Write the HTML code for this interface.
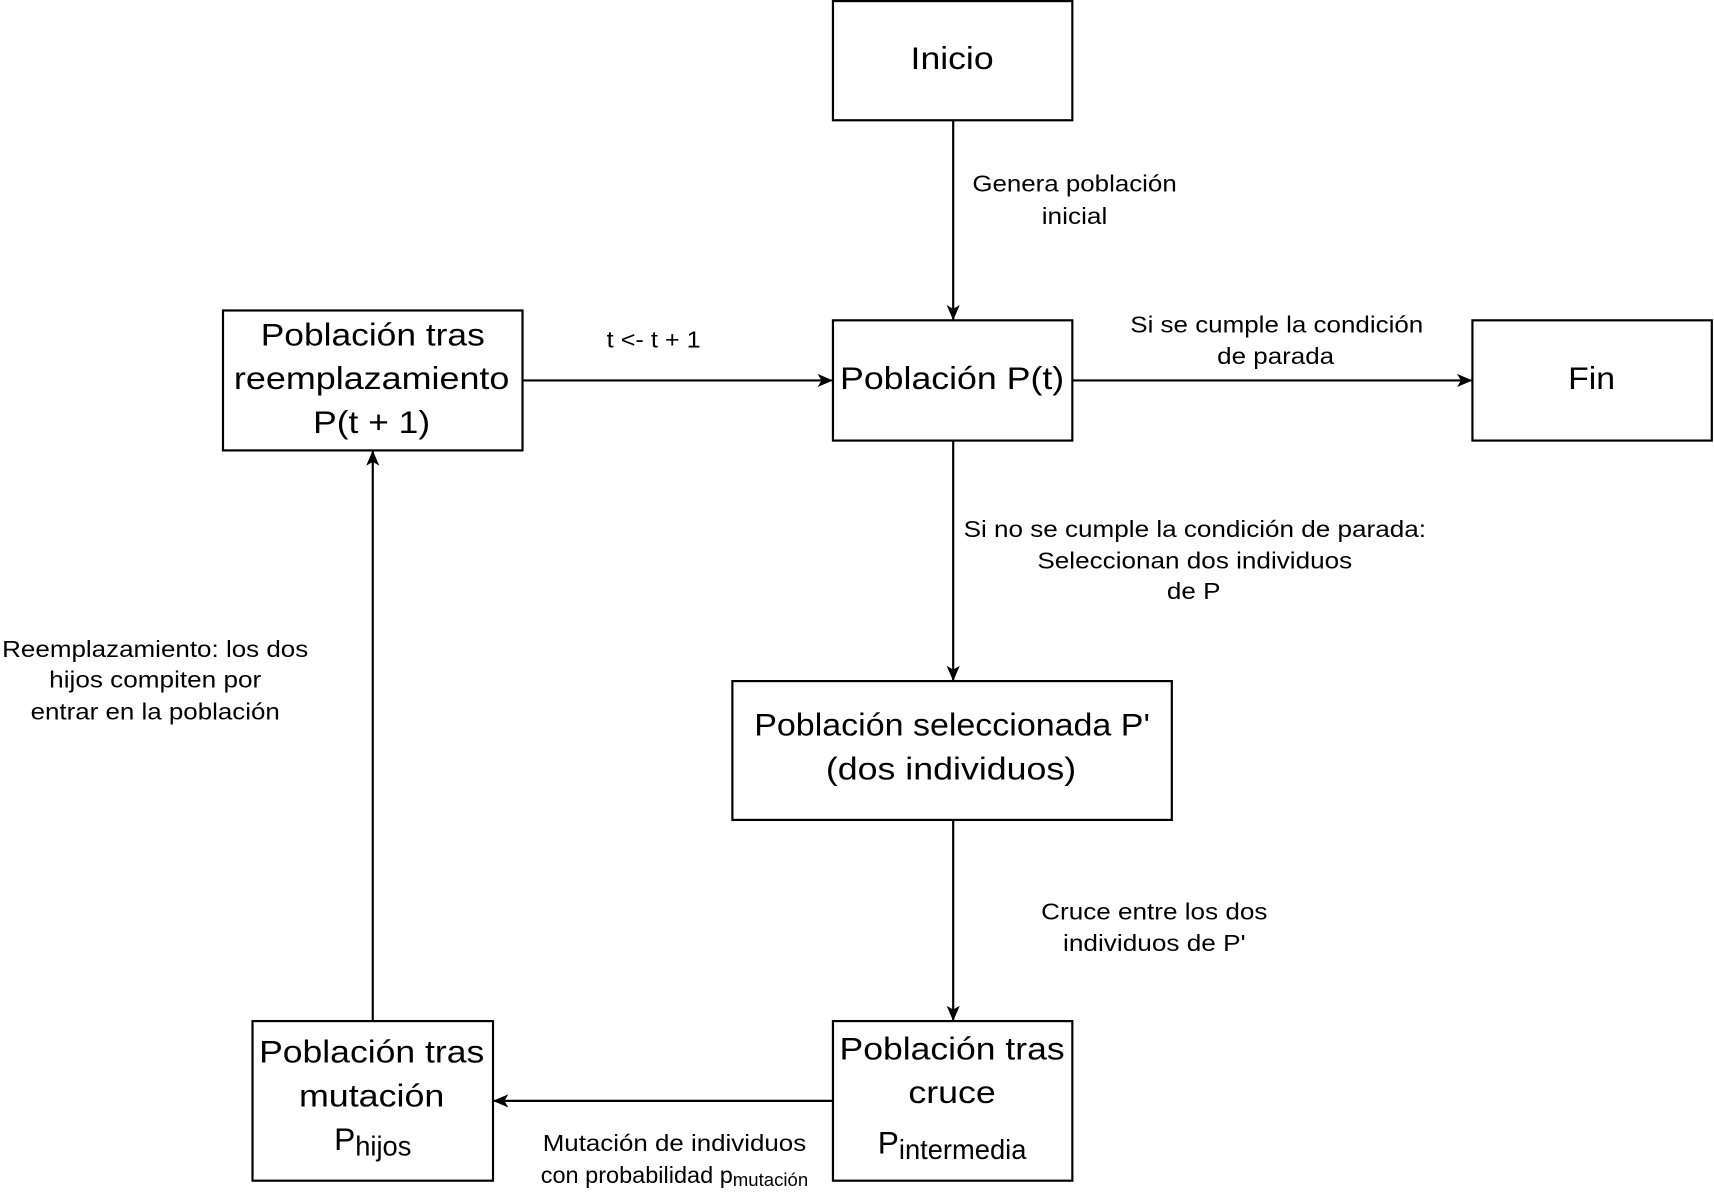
<!DOCTYPE html>
<html><head><meta charset="utf-8"><style>html,body{margin:0;padding:0;background:#fff}svg{display:block}text{font-family:"Liberation Sans","DejaVu Sans",sans-serif}</style></head>
<body>
<svg width="1714" height="1196" viewBox="0 0 1568 1094" preserveAspectRatio="none" xmlns="http://www.w3.org/2000/svg">
<defs><marker id="a" markerWidth="14" markerHeight="12" refX="13" refY="6" orient="auto" markerUnits="userSpaceOnUse"><path d="M0,0 L14,6 L0,12 L3.5,6 Z" fill="#000"/></marker></defs>
<g fill="#fff" stroke="#000" stroke-width="2">
<rect x="762" y="1" width="219" height="109"/>
<rect x="762" y="293" width="219" height="110"/>
<rect x="1347" y="293" width="219" height="110"/>
<rect x="204" y="284" width="274" height="128"/>
<rect x="670" y="623" width="402" height="127"/>
<rect x="762" y="934" width="219" height="146"/>
<rect x="231" y="934" width="220" height="146"/>
</g>
<g stroke="#000" stroke-width="2" marker-end="url(#a)">
<line x1="872" y1="110" x2="872" y2="292"/>
<line x1="981" y1="348" x2="1346" y2="348"/>
<line x1="478" y1="348" x2="761" y2="348"/>
<line x1="872" y1="403" x2="872" y2="622"/>
<line x1="872" y1="750" x2="872" y2="933"/>
<line x1="762" y1="1007" x2="452" y2="1007"/>
<line x1="341" y1="934" x2="341" y2="413"/>
</g>
<g font-size="29" text-anchor="middle" fill="#000" lengthAdjust="spacingAndGlyphs">
<text x="871" y="63" textLength="76" lengthAdjust="spacingAndGlyphs">Inicio</text>
<text x="871" y="356" textLength="205" lengthAdjust="spacingAndGlyphs">Población P(t)</text>
<text x="1456" y="356" textLength="43" lengthAdjust="spacingAndGlyphs">Fin</text>
<text x="341" y="316" textLength="205" lengthAdjust="spacingAndGlyphs">Población tras</text>
<text x="340" y="356" textLength="252" lengthAdjust="spacingAndGlyphs">reemplazamiento</text>
<text x="340" y="396" textLength="107" lengthAdjust="spacingAndGlyphs">P(t + 1)</text>
<text x="871" y="673" textLength="362" lengthAdjust="spacingAndGlyphs">Población seleccionada P'</text>
<text x="870" y="713" textLength="229" lengthAdjust="spacingAndGlyphs">(dos individuos)</text>
<text x="871" y="969" textLength="206" lengthAdjust="spacingAndGlyphs">Población tras</text>
<text x="871" y="1009" textLength="80" lengthAdjust="spacingAndGlyphs">cruce</text>
<text x="871" y="1055">P<tspan font-size="25" dy="5">intermedia</tspan></text>
<text x="340" y="972" textLength="206" lengthAdjust="spacingAndGlyphs">Población tras</text>
<text x="340" y="1012" textLength="133" lengthAdjust="spacingAndGlyphs">mutación</text>
<text x="341" y="1052">P<tspan font-size="25" dy="5">hijos</tspan></text>
</g>
<g font-size="21.5" text-anchor="middle" fill="#000">
<text x="983" y="175" textLength="187" lengthAdjust="spacingAndGlyphs">Genera población</text>
<text x="983" y="205" textLength="60" lengthAdjust="spacingAndGlyphs">inicial</text>
<text x="598" y="318" textLength="86" lengthAdjust="spacingAndGlyphs">t &lt;- t + 1</text>
<text x="1168" y="304" textLength="268" lengthAdjust="spacingAndGlyphs">Si se cumple la condición</text>
<text x="1167" y="333" textLength="107" lengthAdjust="spacingAndGlyphs">de parada</text>
<text x="1093" y="491" textLength="423" lengthAdjust="spacingAndGlyphs">Si no se cumple la condición de parada:</text>
<text x="1093" y="520" textLength="288" lengthAdjust="spacingAndGlyphs">Seleccionan dos individuos</text>
<text x="1092" y="548" textLength="49" lengthAdjust="spacingAndGlyphs">de P</text>
<text x="1056" y="841" textLength="207" lengthAdjust="spacingAndGlyphs">Cruce entre los dos</text>
<text x="1056" y="870" textLength="167" lengthAdjust="spacingAndGlyphs">individuos de P'</text>
<text x="142" y="601" textLength="280" lengthAdjust="spacingAndGlyphs">Reemplazamiento: los dos</text>
<text x="142" y="629" textLength="194" lengthAdjust="spacingAndGlyphs">hijos compiten por</text>
<text x="142" y="658" textLength="228" lengthAdjust="spacingAndGlyphs">entrar en la población</text>
<text x="617" y="1053" textLength="241" lengthAdjust="spacingAndGlyphs">Mutación de individuos</text>
<text x="617" y="1082">con probabilidad p<tspan font-size="17" dy="3">mutación</tspan></text>
</g>
</svg>
</body></html>
